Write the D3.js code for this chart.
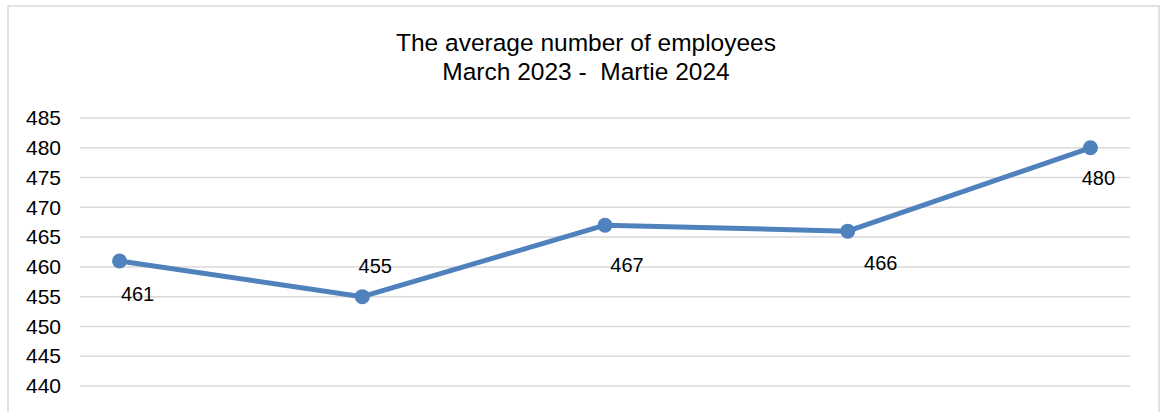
<!DOCTYPE html>
<html>
<head>
<meta charset="utf-8">
<script src="https://cdn.jsdelivr.net/npm/d3@7"></script>
<style>
  html, body { margin: 0; padding: 0; background: #fff; }
  svg { display: block; font-family: "Liberation Sans", Arial, sans-serif; }
</style>
</head>
<body>
<svg id="chart" width="1162" height="412"></svg>
<script>
// Quarterly averages, March 2023 to March 2024
const periods = ["Mar 2023", "Jun 2023", "Sep 2023", "Dec 2023", "Mar 2024"];
const employees = [461, 455, 467, 466, 480];
const yTicks = [440, 445, 450, 455, 460, 465, 470, 475, 480, 485];
const titleLines = ["The average number of employees", "March 2023 -  Martie 2024"];

// Where each value label sits relative to its point
const labelOffsets = [
  { dx: 18, dy: 40 },
  { dx: 13, dy: -24 },
  { dx: 22, dy: 47 },
  { dx: 33, dy: 39 },
  { dx: 8, dy: 37 }
];

const svg = d3.select("#chart");
const lineColor = "#4f81bd";

// Outer frame (runs past the bottom of the view)
svg.append("rect")
  .attr("x", 8).attr("y", 6)
  .attr("width", 1151).attr("height", 460)
  .attr("fill", "#fff")
  .attr("stroke", "#d9d9d9")
  .attr("stroke-width", 1.5);

// Title
svg.append("text")
  .attr("x", 586).attr("y", 50.5)
  .attr("text-anchor", "middle")
  .attr("font-size", 24.5)
  .attr("fill", "#000")
  .style("white-space", "pre")
  .selectAll("tspan")
  .data(titleLines)
  .join("tspan")
  .attr("x", 586)
  .attr("dy", (d, i) => i === 0 ? 0 : 29)
  .text(d => d);

const x = d3.scalePoint()
  .domain(periods)
  .range([80, 1130])
  .padding(0.163);

const y = d3.scaleLinear()
  .domain([440, 485])
  .range([386, 118]);

// Horizontal gridlines
svg.append("g")
  .selectAll("line")
  .data(yTicks)
  .join("line")
  .attr("x1", 80).attr("x2", 1130)
  .attr("y1", d => y(d)).attr("y2", d => y(d))
  .attr("stroke", "#d9d9d9")
  .attr("stroke-width", 1.5);

// Y axis labels
const yAxis = d3.axisLeft(y).tickValues(yTicks).tickSize(0).tickPadding(0);
svg.append("g")
  .attr("transform", "translate(61,0)")
  .call(yAxis)
  .call(g => g.select(".domain").remove())
  .call(g => g.selectAll("text")
    .attr("font-size", 21)
    .attr("font-family", "'Liberation Sans', Arial, sans-serif")
    .attr("fill", "#000"));

// Series line
const line = d3.line()
  .x((d, i) => x(periods[i]))
  .y(d => y(d));

svg.append("path")
  .datum(employees)
  .attr("d", line)
  .attr("fill", "none")
  .attr("stroke", lineColor)
  .attr("stroke-width", 5)
  .attr("stroke-linejoin", "round");

// Markers
svg.append("g")
  .selectAll("circle")
  .data(employees)
  .join("circle")
  .attr("cx", (d, i) => x(periods[i]))
  .attr("cy", d => y(d))
  .attr("r", 7.5)
  .attr("fill", lineColor);

// Value labels
svg.append("g")
  .selectAll("text")
  .data(employees)
  .join("text")
  .attr("x", (d, i) => x(periods[i]) + labelOffsets[i].dx)
  .attr("y", (d, i) => y(d) + labelOffsets[i].dy)
  .attr("text-anchor", "middle")
  .attr("font-size", 20)
  .attr("fill", "#000")
  .text(d => d);
</script>
</body>
</html>
